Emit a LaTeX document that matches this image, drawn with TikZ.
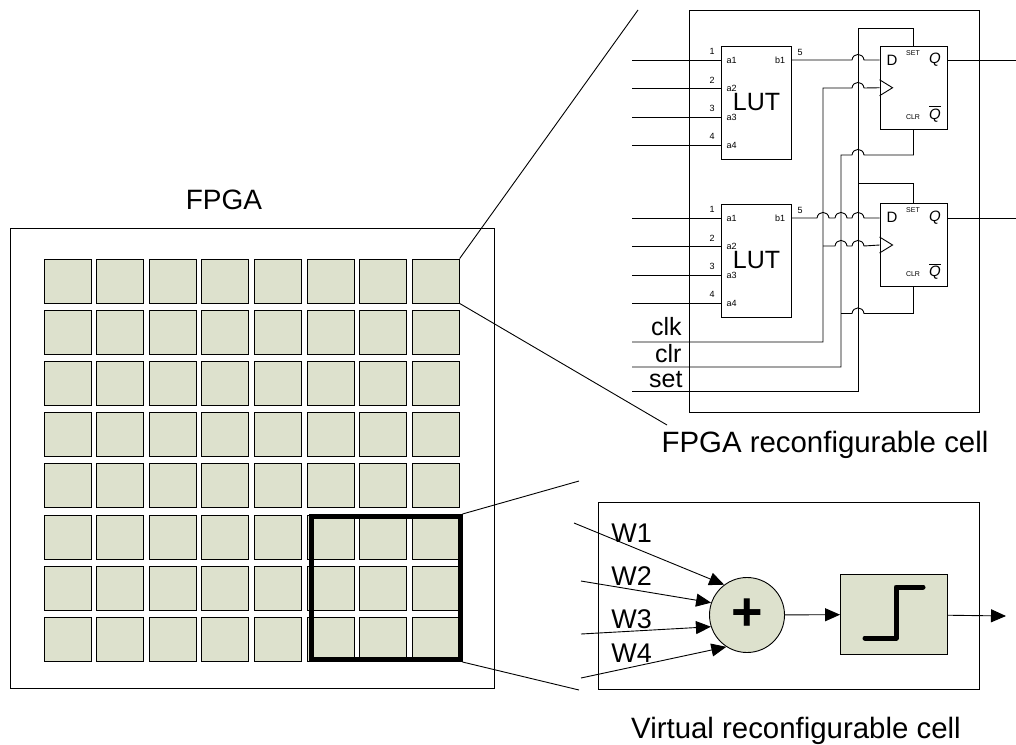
\documentclass[tikz,border=0pt]{standalone}
\usepackage{fontspec}
\setmainfont{Liberation Sans}
\usepackage{amsmath}
\usetikzlibrary{positioning,arrows.meta,calc}
\definecolor{cellgreen}{HTML}{DDE1CD}
\newcommand{\hop}[2]{-- (#1-6,#2) .. controls (#1-5,#2-7.5) and (#1+5,#2-7.5) .. (#1+6,#2)}

\begin{document}
\begin{tikzpicture}[x=1pt,y=-1pt,line width=0.9pt,>={Triangle[length=15pt,width=13pt]},
  cell/.style={draw,fill=cellgreen,minimum width=47pt,minimum height=44pt,inner sep=0pt},
  lutbox/.style={draw,fill=white,minimum width=70pt,minimum height=113pt,inner sep=0pt,font=\fontsize{25}{25}\selectfont},
  ffbox/.style={draw,fill=white,minimum width=67pt,minimum height=83.5pt,inner sep=0pt},
  title/.style={inner sep=0pt,anchor=base,font=\fontsize{29.4}{29.4}\selectfont},
  wlbl/.style={inner sep=0pt,anchor=base west,font=\fontsize{27}{27}\selectfont},
  sig/.style={inner sep=0pt,font=\fontsize{25}{25}\selectfont,anchor=base east},
  pinlbl/.style={inner sep=0pt,font=\fontsize{9}{9}\selectfont},
  tinylbl/.style={inner sep=0pt,font=\fontsize{7}{7}\selectfont}]
\useasboundingbox (0,0) rectangle (1016,744);

% FPGA
\node[title,font=\fontsize{28}{28}\selectfont] (fpgalbl) at (224,209) {FPGA};
\node[draw,minimum width=484pt,minimum height=460pt,inner sep=0pt] (fpga) at (252,458) {};
\foreach \c in {1,...,8}
  \foreach \r in {1,...,8}
    \node[cell] (c\c r\r) at ({67.5+52.6*(\c-1)},{281+51.2*(\r-1)}) {};
\node[draw,line width=5pt,minimum width=148.5pt,minimum height=143pt,inner sep=0pt] (vrc) at (385.75,588) {};

% zoom lines
\coordinate (zoomA) at (638,10);
\coordinate (zoomB) at (667,425);
\coordinate (zoomC) at (579,481);
\coordinate (zoomD) at (579,690);
\draw (c8r1.north east) -- (zoomA);
\draw (c8r1.south east) -- (zoomB);
\draw (vrc.north east) -- (zoomC);
\draw (vrc.south east) -- (zoomD);

% reconfigurable cell
\node[draw,minimum width=290pt,minimum height=402pt,inner sep=0pt] (fpgacell) at (834,211) {};
\node[title] (fpgacelllbl) at (825,452) {FPGA reconfigurable cell};
\node[lutbox] (lutA) at (756.5,102.5) {LUT};
\node[lutbox] (lutB) at (756.5,260.5) {LUT};
\node[ffbox] (ffA) at (913.5,87.75) {};
\node[ffbox] (ffB) at (913.5,245) {};

\foreach \l/\t in {lutA/0,lutB/158}{
  \foreach \n/\y in {1/60,2/88.5,3/117,4/145}{
    \coordinate (\l in\n) at (632,\y+\t);
    \draw (\l in\n) -- (\l in\n -| \l.west);
    \node[pinlbl] (\l num\n) at (712,\y+\t-8.5) {\n};
    \node[pinlbl] (\l a\n) at (731.5,\y+\t) {a\n};
  }
  \node[pinlbl] (\l b) at (780,60+\t) {b1};
  \node[pinlbl] (\l num) at (800,52+\t) {5};
}
\foreach \f/\t in {ffA/0,ffB/157.5}{
  \node[inner sep=0pt,font=\fontsize{15}{15}\selectfont] (\f d) at (892,60+\t) {D};
  \node[tinylbl] (\f set) at (913,53+\t) {SET};
  \node[tinylbl] (\f clr) at (913,117+\t) {CLR};
  \node[inner sep=0pt,font=\fontsize{15}{15}\selectfont\itshape] (\f q) at (935,60+\t) {Q};
  \node[inner sep=0pt,font=\fontsize{15}{15}\selectfont\itshape] (\f qn) at (935,114+\t) {$\overline{\hbox{Q}}$};
  \draw (\f.west) ++(0,-8) -- ++(13,8) -- ++(-13,8);
}

% signals
\coordinate (clkin) at (632,342);
\coordinate (clrin) at (632,367);
\coordinate (setin) at (632,391);
\coordinate (outA) at (1016,60);
\coordinate (outB) at (1016,218);
\node[sig] (clklbl) at (682,335) {clk};
\node[sig] (clrlbl) at (682,362.5) {clr};
\node[sig] (setlbl) at (683,387) {set};

\draw (lutA.east |- 0,60) \hop{858}{60} -- (ffA.west |- 0,60);
\draw (lutB.east |- 0,218) \hop{823}{218} \hop{841}{218} \hop{858}{218} -- (ffB.west |- 0,218);
\draw (clkin) -- (823,342) -- (823,88) \hop{858}{88} -- (ffA.west);
\draw (823,246) \hop{841}{246} \hop{858}{246} -- (ffB.west);
\draw (clrin) -- (841,367) -- (841,155) \hop{858}{155} -- (ffA.south |- 0,155) -- (ffA.south);
\draw (841,313.5) \hop{858}{313.5} -- (ffB.south |- 0,313.5) -- (ffB.south);
\draw (setin) -- (858,391) -- (858,28) -- (ffA.north |- 0,28) -- (ffA.north);
\draw (858,183) -- (ffB.north |- 0,183) -- (ffB.north);
\draw (ffA.east |- 0,60) -- (outA);
\draw (ffB.east |- 0,218) -- (outB);

% virtual cell
\node[draw,minimum width=381pt,minimum height=187pt,inner sep=0pt] (vcell) at (788.5,595.5) {};
\node[title] (vcelllbl) at (796,738.5) {Virtual reconfigurable cell};
\node[draw,circle,fill=cellgreen,minimum size=75pt,inner sep=0pt,font=\fontsize{54}{54}\selectfont\bfseries] (sum) at (747,615) {+};
\node[draw,fill=cellgreen,minimum width=107pt,minimum height=79.5pt,inner sep=0pt] (stepfn) at (894,614.5) {};
\draw[line width=5pt,line cap=round,line join=round] (865,638) -- (896,638) -- (896,587) -- (923,587);

\coordinate (w1) at (574,523);
\coordinate (w2) at (581,581);
\coordinate (w3) at (581,634);
\coordinate (w4) at (581,678);
\coordinate (vout) at (1006,616);
\draw[->] (w1) -- (sum.127);
\draw[->] (w2) -- (sum.161);
\draw[->] (w3) -- (sum.198);
\draw[->] (w4) -- (sum.237);
\draw[->] (sum) -- (stepfn);
\draw[->] (stepfn) -- (vout);
\node[wlbl] (w1lbl) at (611,542) {W1};
\node[wlbl] (w2lbl) at (611,585) {W2};
\node[wlbl] (w3lbl) at (611,628) {W3};
\node[wlbl] (w4lbl) at (611,662) {W4};
\end{tikzpicture}
\end{document}
